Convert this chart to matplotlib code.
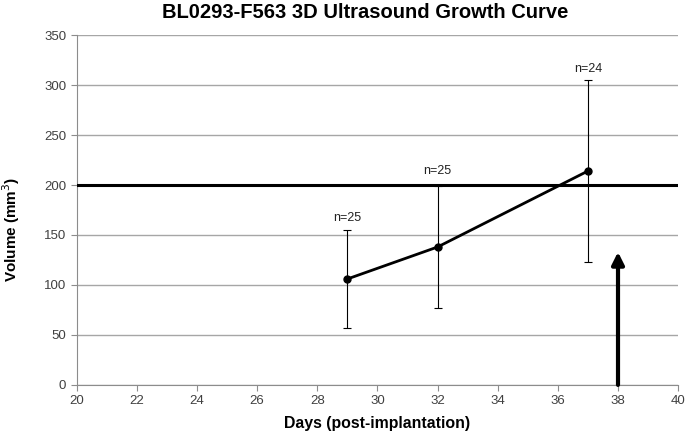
import matplotlib
matplotlib.use('Agg')
import matplotlib.pyplot as plt

plt.rcParams['font.family'] = ['Liberation Sans', 'DejaVu Sans']

# measured points
days = [29, 32, 37]
volume = [106, 138, 214]
err = [49, 61, 91]
n_labels = ['n=25', 'n=25', 'n=24']
label_y = [167, 214, 316]

threshold = 200
arrow_day = 38
arrow_top = 133

fig = plt.figure(figsize=(6.85, 4.33), dpi=100)
ax = fig.add_axes([0.112, 0.111, 0.878, 0.808])

ax.set_xlim(20, 40)
ax.set_ylim(0, 350)
ax.set_xticks(range(20, 41, 2))
ax.set_yticks(range(0, 351, 50))
ax.yaxis.grid(True, color='#a6a6a6', linewidth=1)
ax.set_axisbelow(True)

ax.plot([20, 40], [threshold, threshold], color='black', linewidth=2.2, zorder=3)

ax.errorbar(days, volume, yerr=err, color='black', linewidth=2, marker='o',
            markersize=5, ecolor='black', elinewidth=0.8, capsize=3,
            capthick=0.8, zorder=4)

for d, t, y in zip(days, n_labels, label_y):
    ax.text(d, y, t, ha='center', va='center', fontsize=9, color='#222222')

ax.annotate('', xy=(arrow_day, arrow_top), xytext=(arrow_day, 0),
            arrowprops=dict(arrowstyle='-|>', color='black', lw=3,
                            mutation_scale=18, shrinkA=0, shrinkB=0),
            zorder=5)

for s in ['top', 'right']:
    ax.spines[s].set_visible(False)
for s in ['left', 'bottom']:
    ax.spines[s].set_color('#8c8c8c')
ax.tick_params(colors='#8c8c8c', labelcolor='#404040', labelsize=9.5, length=4,
               direction='out')

# excel puts the title and y label a bit off the axes centre
fig.text(0.533, 0.97, 'BL0293-F563 3D Ultrasound Growth Curve', fontsize=14.5,
         fontweight='bold', ha='center', va='center')
ax.set_xlabel('Days (post-implantation)', fontsize=11.4, fontweight='bold',
              labelpad=6)
fig.text(0.016, 0.471, 'Volume (mm$^3$)', fontsize=11, fontweight='bold',
         rotation=90, ha='center', va='center')

fig.savefig('out.png', dpi=100)
